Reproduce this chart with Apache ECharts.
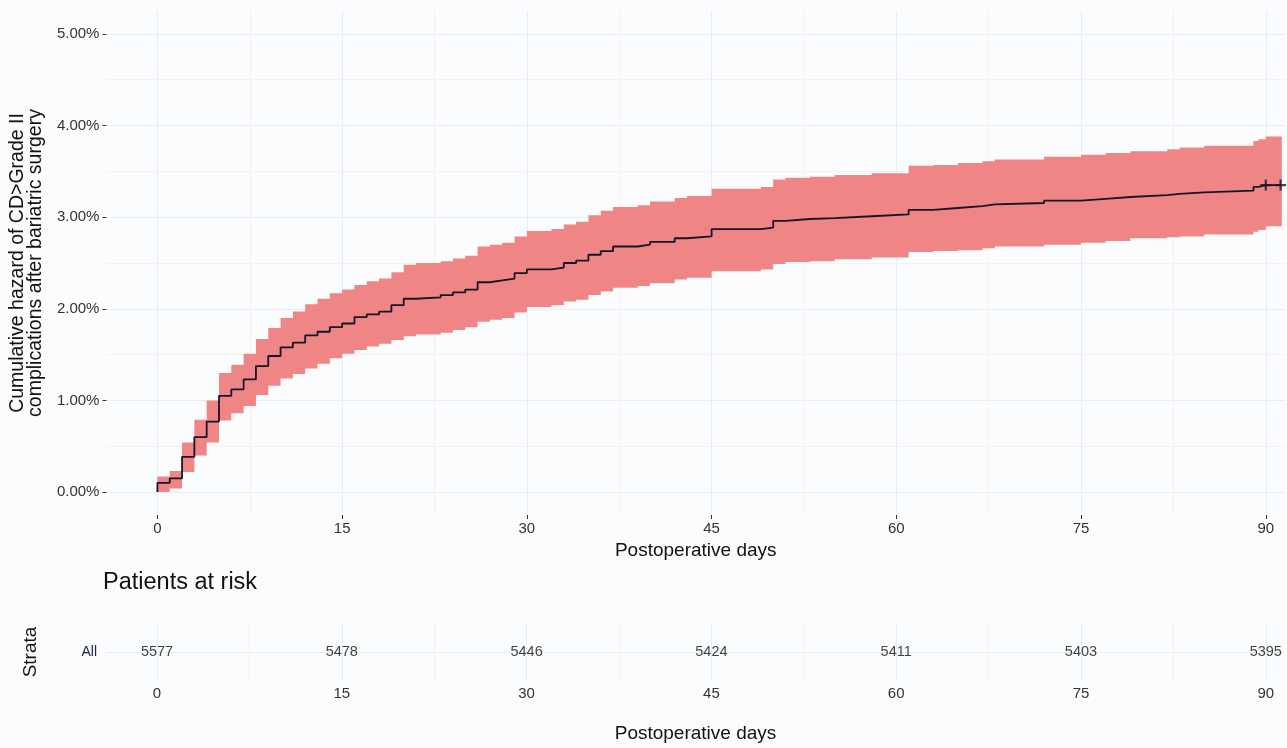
<!DOCTYPE html>
<html>
<head>
<meta charset="utf-8">
<script src="https://cdn.jsdelivr.net/npm/echarts@6/dist/echarts.min.js"></script>
<style>
  html, body { margin: 0; padding: 0; background: #fbfcfd; }
  #hazardChart { width: 1287px; height: 748px; }
</style>
</head>
<body>
<div id="hazardChart"></div>
<script>
// cumulative hazard (%) step function
const days = [0, 0, 1, 2, 3, 4, 5, 6, 7, 8, 9, 10, 11, 12, 13, 14, 15, 16, 17, 18, 19, 20, 21, 23, 24, 25, 26, 27, 28, 29, 30, 32, 33, 34, 35, 36, 37, 39, 40, 42, 43, 45, 49, 50, 51, 53, 55, 58, 61, 63, 65, 67, 68, 72, 75, 77, 79, 82, 83, 85, 89, 89.4, 90, 91.3]
const hazard = [0, 0.10, 0.15, 0.385, 0.60, 0.77, 1.05, 1.12, 1.23, 1.375, 1.485, 1.58, 1.63, 1.71, 1.75, 1.80, 1.84, 1.91, 1.94, 1.97, 2.04, 2.11, 2.125, 2.15, 2.18, 2.21, 2.29, 2.31, 2.33, 2.39, 2.43, 2.45, 2.50, 2.525, 2.59, 2.63, 2.68, 2.70, 2.73, 2.77, 2.79, 2.87, 2.885, 2.96, 2.98, 2.99, 3.01, 3.03, 3.08, 3.10, 3.12, 3.14, 3.155, 3.18, 3.20, 3.22, 3.24, 3.255, 3.27, 3.29, 3.33, 3.35, 3.35, 3.35]
const lower = [0, 0.00, 0.04, 0.22, 0.40, 0.54, 0.78, 0.86, 0.94, 1.06, 1.16, 1.24, 1.29, 1.35, 1.40, 1.46, 1.51, 1.55, 1.59, 1.62, 1.66, 1.70, 1.72, 1.74, 1.77, 1.80, 1.86, 1.88, 1.90, 1.96, 2.02, 2.04, 2.08, 2.10, 2.15, 2.19, 2.23, 2.25, 2.28, 2.32, 2.34, 2.41, 2.43, 2.49, 2.51, 2.52, 2.54, 2.56, 2.62, 2.63, 2.64, 2.66, 2.68, 2.70, 2.72, 2.74, 2.77, 2.78, 2.79, 2.81, 2.84, 2.86, 2.90, 2.90]
const upper = [0, 0.17, 0.23, 0.54, 0.79, 1.00, 1.30, 1.39, 1.51, 1.67, 1.79, 1.90, 1.97, 2.05, 2.11, 2.17, 2.21, 2.26, 2.30, 2.33, 2.40, 2.48, 2.50, 2.52, 2.55, 2.58, 2.68, 2.70, 2.72, 2.79, 2.85, 2.87, 2.92, 2.95, 3.02, 3.07, 3.11, 3.13, 3.17, 3.21, 3.23, 3.31, 3.33, 3.41, 3.43, 3.44, 3.46, 3.48, 3.56, 3.57, 3.59, 3.61, 3.63, 3.66, 3.68, 3.70, 3.72, 3.74, 3.76, 3.78, 3.83, 3.85, 3.88, 3.88]

// censoring marks
const censorDays = [90, 91.2]
const censorHazard = [3.35, 3.35]

// patients at risk table
const riskDays = [0, 15, 30, 45, 60, 75, 90]
const riskCounts = [5577, 5478, 5446, 5424, 5411, 5403, 5395]

// axis ticks
const xTicks = [0, 15, 30, 45, 60, 75, 90]
const xMinor = [7.5, 22.5, 37.5, 52.5, 67.5, 82.5]
const yTicks = [0, 1, 2, 3, 4, 5]
const yMinor = [0.5, 1.5, 2.5, 3.5, 4.5]

const X_MIN = -4.14
const X_MAX = 91.56
const FONT = 'Liberation Sans, Arial, sans-serif'
const majorGrid = '#e8edf3'
const minorGrid = '#f3f1f1'

const chart = echarts.init(document.getElementById('hazardChart'))

function majorX(gridIndex, withTicks, extra) {
  return Object.assign({
    type: 'value',
    gridIndex: gridIndex,
    min: X_MIN,
    max: X_MAX,
    axisLine: { show: false, onZero: false },
    axisTick: { show: withTicks, customValues: xTicks, length: 4, lineStyle: { color: '#333', width: 1 } },
    axisLabel: { show: true, customValues: xTicks, color: '#333', fontSize: 15, fontFamily: FONT, margin: 6 },
    splitLine: { show: true, lineStyle: { color: majorGrid, width: 1 } },
    name: 'Postoperative days',
    nameLocation: 'middle',
    nameTextStyle: { color: '#111', fontSize: 19, fontFamily: FONT }
  }, extra)
}

function minorX(gridIndex) {
  return {
    type: 'value',
    gridIndex: gridIndex,
    min: X_MIN,
    max: X_MAX,
    axisLine: { show: false, onZero: false },
    axisTick: { show: false, customValues: xMinor },
    axisLabel: { show: false, customValues: xMinor },
    splitLine: { show: true, lineStyle: { color: minorGrid, width: 1 } }
  }
}

// confidence band as one stepped polygon, built through the axis scales
function renderBand(params, api) {
  if (params.dataIndex !== 0) return null
  const top = []
  const bottom = []
  for (let i = 1; i < days.length - 1; i++) {
    top.push(api.coord([days[i], upper[i]]), api.coord([days[i + 1], upper[i]]))
    bottom.push(api.coord([days[i], lower[i]]), api.coord([days[i + 1], lower[i]]))
  }
  return {
    type: 'polygon',
    shape: { points: top.concat(bottom.reverse()) },
    style: { fill: '#f08585' }
  }
}

const option = {
  backgroundColor: '#fbfcfd',
  animation: false,
  title: {
    text: 'Patients at risk',
    left: 103,
    top: 571,
    padding: 0,
    textStyle: { color: '#111', fontSize: 23.5, fontWeight: 'normal', fontFamily: FONT }
  },
  grid: [
    { left: 106, right: 2, top: 11, height: 504 },
    { left: 106, right: 2, top: 624, height: 56 }
  ],
  xAxis: [
    majorX(0, true, { nameGap: 25 }),
    minorX(0),
    majorX(1, false, { nameGap: 44 }),
    minorX(1)
  ],
  yAxis: [
    {
      type: 'value',
      gridIndex: 0,
      min: -0.25,
      max: 5.25,
      axisLine: { show: false, onZero: false },
      axisTick: { show: true, customValues: yTicks, length: 4, lineStyle: { color: '#333', width: 1 } },
      axisLabel: {
        customValues: yTicks,
        color: '#333',
        fontSize: 15,
        fontFamily: FONT,
        margin: 7,
        formatter: v => v.toFixed(2) + '%'
      },
      splitLine: { show: true, lineStyle: { color: majorGrid, width: 1 } },
      name: 'Cumulative hazard of CD>Grade II\ncomplications after bariatric surgery',
      nameLocation: 'middle',
      nameRotate: 90,
      nameGap: 53,
      nameTextStyle: { color: '#111', fontSize: 19.5, lineHeight: 18, fontFamily: FONT }
    },
    {
      type: 'value',
      gridIndex: 0,
      min: -0.25,
      max: 5.25,
      axisLine: { show: false, onZero: false },
      axisTick: { show: false, customValues: yMinor },
      axisLabel: { show: false, customValues: yMinor },
      splitLine: { show: true, lineStyle: { color: minorGrid, width: 1 } }
    },
    {
      type: 'value',
      gridIndex: 1,
      min: 0,
      max: 2,
      axisLine: { show: false, onZero: false },
      axisTick: { show: false, customValues: [1] },
      axisLabel: { customValues: [1], color: '#22224a', fontSize: 14, fontFamily: FONT, margin: 9, formatter: () => 'All' },
      splitLine: { show: true, lineStyle: { color: majorGrid, width: 1 } },
      name: 'Strata',
      nameLocation: 'middle',
      nameRotate: 90,
      nameGap: 66,
      nameTextStyle: { color: '#111', fontSize: 19, fontFamily: FONT }
    }
  ],
  series: [
    {
      name: 'ci',
      type: 'custom',
      xAxisIndex: 0,
      yAxisIndex: 0,
      renderItem: renderBand,
      data: days.map((d, i) => [d, lower[i], upper[i]]),
      silent: true
    },
    {
      name: 'All',
      type: 'line',
      xAxisIndex: 0,
      yAxisIndex: 0,
      step: 'end',
      symbol: 'none',
      lineStyle: { color: '#15152b', width: 1.8 },
      data: days.map((d, i) => [d, hazard[i]])
    },
    {
      name: 'censor',
      type: 'scatter',
      xAxisIndex: 0,
      yAxisIndex: 0,
      symbol: 'path://M4,0H6V4H10V6H6V10H4V6H0V4H4Z',
      symbolSize: 11,
      itemStyle: { color: '#15152b' },
      data: censorDays.map((d, i) => [d, censorHazard[i]])
    },
    {
      name: 'risk',
      type: 'scatter',
      xAxisIndex: 2,
      yAxisIndex: 2,
      symbolSize: 0,
      label: {
        show: true,
        position: 'inside',
        color: '#111',
        fontSize: 14.5,
        fontFamily: FONT,
        formatter: p => p.value[2]
      },
      data: riskDays.map((d, i) => [d, 1, riskCounts[i]])
    }
  ]
}

chart.setOption(option)
</script>
</body>
</html>
